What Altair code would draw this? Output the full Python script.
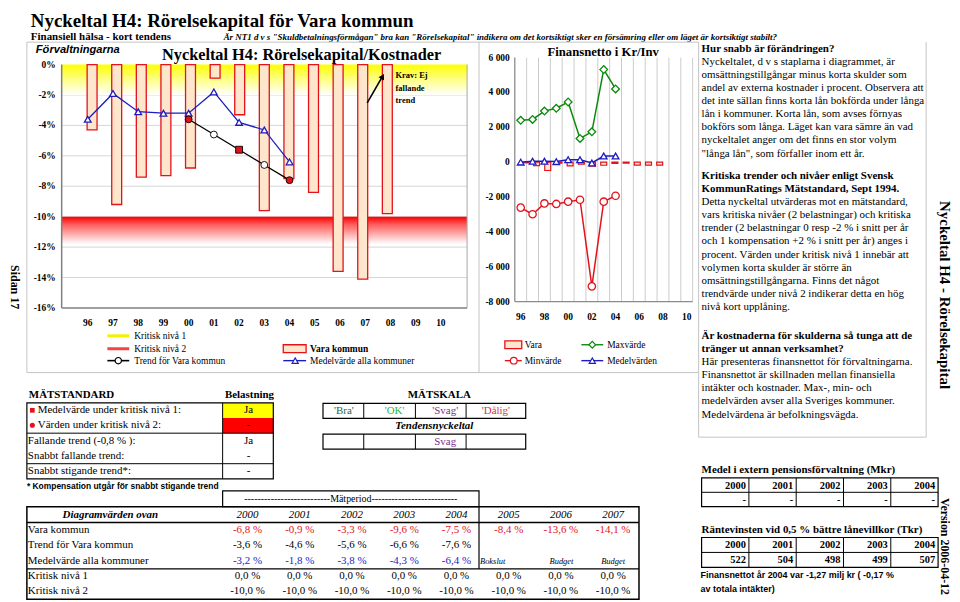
import altair as alt
import pandas as pd

# ------------------------------------------------------------------ data
ar = ["96", "97", "98", "99", "00", "01", "02", "03", "04", "05", "06", "07", "08", "09", "10"]
vara_kommun = [-4.3, -9.2, -7.4, -7.3, -6.8, -0.9, -3.3, -9.6, -7.5, -8.4, -13.6, -14.1, -9.8, None, None]
medel_alla = [-3.6, -1.9, -3.1, -3.2, -3.2, -1.8, -3.8, -4.3, -6.4, None, None, None, None, None, None]
trend_ar = ["00", "01", "02", "03", "04"]
trend_vara = [-3.6, -4.6, -5.6, -6.6, -7.6]
trend_form = ["cirkel", "cirkel", "kvadrat", "cirkel", "cirkel"]
trend_fyllning = ["röd", "vit", "röd", "vit", "röd"]
kritisk_niva_1 = 0.0
kritisk_niva_2 = -10.0
procent_ticks = [0, -2, -4, -6, -8, -10, -12, -14, -16]

fin_vara = [-40, -200, -480, -60, -220, -120, -230, -180, -70, -60, -170, -170, -170, None, None]
fin_max = [2400, 2450, 2930, 3090, 3450, 1360, 1740, 5310, 4200, None, None, None, None, None, None]
fin_min = [-2610, -2990, -2370, -2400, -2270, -2160, -7130, -2270, -1930, None, None, None, None, None, None]
fin_medel = [0, 50, 50, 30, 140, 140, -50, 350, 350, None, None, None, None, None, None]
fin_ticks = [6000, 4000, 2000, 0, -2000, -4000, -6000, -8000]

tab_ar = ["2000", "2001", "2002", "2003", "2004", "2005", "2006", "2007"]
tab_typ = ["Bokslut", "Budget", "Budget"]
tab_rader = ["Vara kommun", "Trend för Vara kommun", "Medelvärde alla kommuner", "Kritisk nivå 1", "Kritisk nivå 2"]

matstandard_rader = ["Medelvärde under kritisk nivå 1:", "Värden under kritisk nivå 2:",
                     "Fallande trend (-0,8 % ):", "Snabbt fallande trend:", "Snabbt stigande trend*:"]
belastning = ["Ja", "-", "Ja", "-", "-"]
matskala = ["'Bra'", "'OK'", "'Svag'", "'Dålig'"]
tendens = ["", "", "Svag", ""]

pension_ar = ["2000", "2001", "2002", "2003", "2004"]
pension_medel = ["-", "-", "-", "-", "-"]
ranta_vinst = [522, 504, 498, 499, 507]

text_block_1 = ["Nyckeltalet, d v s staplarna i diagrammet, är",
                "omsättningstillgångar minus korta skulder som",
                "andel av externa kostnader i procent. Observera att",
                "det inte sällan finns korta lån bokförda under långa",
                "lån i kommuner. Korta lån, som avses förnyas",
                "bokförs som långa. Läget kan vara sämre än vad",
                "nyckeltalet anger om det finns en stor volym",
                "\"långa lån\", som förfaller inom ett år."]
text_block_2 = ["Detta nyckeltal utvärderas mot en mätstandard,",
                "vars kritiska nivåer (2 belastningar) och kritiska",
                "trender (2 belastningar 0 resp -2 % i snitt per år",
                "och 1 kompensation +2 % i snitt per år) anges i",
                "procent. Värden under kritisk nivå 1 innebär att",
                "volymen korta skulder är större än",
                "omsättningstillgångarna.  Finns det något",
                "trendvärde under nivå 2 indikerar detta en hög",
                "nivå kort upplåning."]
text_block_3 = ["Här presenteras finansnettot för förvaltningarna.",
                "Finansnettot är skillnaden mellan finansiella",
                "intäkter och kostnader. Max-, min- och",
                "medelvärden avser alla Sveriges kommuner.",
                "Medelvärdena är befolkningsvägda."]
rubrik_1 = ["Hur snabb är förändringen?"]
rubrik_2 = ["Kritiska trender och nivåer enligt Svensk", "KommunRatings Mätstandard, Sept 1994."]
rubrik_3 = ["Är kostnaderna för skulderna så tunga att de", "tränger ut annan verksamhet?"]

# ------------------------------------------------------------------ style
SERIF = "Liberation Serif"
SANS = "Liberation Sans"
OFF = 8
PEACH = "#fde6cc"
RED = "#e3121b"
BLUE = "#1c1cc0"
GREEN = "#0a8a0a"
FRAME = "#c4c4c4"


def P(v):
    return v - OFF


one = pd.DataFrame({"d": [0]})
layers = []


def text(s, x, y, size=11, bold=False, italic=False, align="left", color="black", font=SERIF, angle=None,
         baseline="middle"):
    kw = dict(text=s, fontSize=size, align=align, baseline=baseline, color=color, font=font)
    if bold:
        kw["fontWeight"] = "bold"
    if italic:
        kw["fontStyle"] = "italic"
    if angle is not None:
        kw["angle"] = angle
    layers.append(alt.Chart(one).mark_text(**kw).encode(x=alt.value(P(x)), y=alt.value(P(y))))


def rule(x1, y1, x2, y2, color="black", width=1.0):
    layers.append(alt.Chart(one).mark_rule(color=color, strokeWidth=width).encode(
        x=alt.value(P(x1)), y=alt.value(P(y1)), x2=alt.value(P(x2)), y2=alt.value(P(y2))))


def rect(x1, y1, x2, y2, fill=None, stroke=None, width=1.0):
    kw = {}
    if fill:
        kw["fill"] = fill
    else:
        kw["fill"] = "white"
        kw["fillOpacity"] = 0
    if stroke:
        kw["stroke"] = stroke
        kw["strokeWidth"] = width
    layers.append(alt.Chart(one).mark_rect(**kw).encode(
        x=alt.value(P(x1)), y=alt.value(P(y1)), x2=alt.value(P(x2)), y2=alt.value(P(y2))))


def sc(domain, rng):
    return alt.Scale(domain=domain, range=rng, nice=False, zero=False)


# ---------------------------------------------------------------- scales
L_X = sc([-1.035, 15.04], [P(62), P(470)])
L_Y = sc([-16, 0], [P(308), P(63)])
M_X = sc([-0.5, 14.5], [P(518), P(697)])
M_Y = sc([-8000, 6000], [P(301.5), P(56)])


def lx(f):
    return alt.X(f"{f}:Q", scale=L_X, axis=None)


def ly(f):
    return alt.Y(f"{f}:Q", scale=L_Y, axis=None)


def mx(f):
    return alt.X(f"{f}:Q", scale=M_X, axis=None)


def my(f):
    return alt.Y(f"{f}:Q", scale=M_Y, axis=None)


# ---------------------------------------------------------------- titles
text("Nyckeltal H4: Rörelsekapital för Vara kommun", 31, 25, size=19, bold=True, baseline="alphabetic")
text("Finansiell hälsa - kort tendens", 31, 35, size=11, bold=True)
text("Är NT1 d v s \"Skuldbetalningsförmågan\" bra kan \"Rörelsekapital\" indikera om det kortsiktigt sker "
     "en försämring eller om läget är kortsiktigt stabilt?", 225, 35, size=9, bold=True, italic=True)
text("Sidan 17", 15, 287, size=12, bold=True, angle=90, align="center")
text("Nyckeltal H4 - Rörelsekapital", 951, 295, size=15, bold=True, angle=90, align="center")
text("Version  2006-04-12", 951, 548, size=12, bold=True, angle=90, align="center")

# panel frames
rule(27, 40.5, 703, 40.5, FRAME)
rule(27, 40.5, 27, 373, FRAME)
rule(27, 373, 703, 373, FRAME)
rule(482, 40.5, 482, 373, FRAME)
rule(703, 40.5, 703, 438, FRAME)
rule(932, 40.5, 932, 438, FRAME)
rule(703, 438, 932, 438, FRAME)

# ---------------------------------------------------------------- left chart
left = pd.DataFrame({"ar": ar, "i": list(range(len(ar))), "vara": vara_kommun, "medel": medel_alla})
trend = pd.DataFrame({"i": [ar.index(a) for a in trend_ar], "v": trend_vara,
                      "form": trend_form, "fyll": trend_fyllning})
ticks_l = pd.DataFrame({"v": procent_ticks, "t": [f"{v}%" for v in procent_ticks]})

layers.append(alt.Chart(ticks_l[(ticks_l.v < 0) & (ticks_l.v > -16)]).mark_rule(
    color="#d6d6d6", strokeWidth=1).encode(y=ly("v"), x=alt.value(P(62)), x2=alt.value(P(470))))

bands = pd.DataFrame({"topp": [kritisk_niva_1, kritisk_niva_2],
                      "botten": [kritisk_niva_1 - 2.0, kritisk_niva_2 - 1.8],
                      "niva": ["1", "2"]})
grad_y = alt.Gradient(gradient="linear", x1=0, x2=0, y1=0, y2=1,
                      stops=[alt.GradientStop(color="#ffff00", offset=0),
                             alt.GradientStop(color="#ffff70", offset=0.4),
                             alt.GradientStop(color="#ffffff", offset=1)])
grad_r = alt.Gradient(gradient="linear", x1=0, x2=0, y1=0, y2=1,
                      stops=[alt.GradientStop(color="#f80000", offset=0),
                             alt.GradientStop(color="#ff6060", offset=0.3),
                             alt.GradientStop(color="#ffffff", offset=1)])
layers.append(alt.Chart(bands[bands.niva == "1"]).mark_rect(color=grad_y).encode(
    y=ly("topp"), y2=alt.Y2("botten:Q"), x=alt.value(P(62)), x2=alt.value(P(470))))
layers.append(alt.Chart(bands[bands.niva == "2"]).mark_rect(color=grad_r).encode(
    y=ly("topp"), y2=alt.Y2("botten:Q"), x=alt.value(P(62)), x2=alt.value(P(470))))

rule(62, 63, 62, 308, "#7f7f7f", 1.5)
rule(62, 308, 470, 308, "#7f7f7f", 1.5)
rule(470, 63, 470, 308, "#a6a6a6", 1)

layers.append(alt.Chart(left.dropna(subset=["vara"])).mark_bar(
    orient="vertical", size=10, fill=PEACH, stroke=RED, strokeWidth=1.3).encode(
    x=lx("i"), y=ly("vara")))
lm = left.dropna(subset=["medel"])
layers.append(alt.Chart(lm).mark_line(color=BLUE, strokeWidth=1.3).encode(x=lx("i"), y=ly("medel")))
layers.append(alt.Chart(lm).mark_point(shape="triangle-up", size=45, filled=True, fill="white",
                                       stroke=BLUE, strokeWidth=1.3, opacity=1).encode(
    x=lx("i"), y=ly("medel")))
layers.append(alt.Chart(trend).mark_line(color="black", strokeWidth=1.3).encode(x=lx("i"), y=ly("v")))
layers.append(alt.Chart(trend).mark_point(size=48, filled=True, stroke="black", strokeWidth=0.9, opacity=1).encode(
    x=lx("i"), y=ly("v"),
    shape=alt.Shape("form:N", scale=alt.Scale(domain=["cirkel", "kvadrat"], range=["circle", "square"]), legend=None),
    fill=alt.Fill("fyll:N", scale=alt.Scale(domain=["röd", "vit"], range=[RED, "#ffffff"]), legend=None)))

layers.append(alt.Chart(ticks_l).mark_text(align="right", baseline="middle", fontSize=9.5,
                                           fontWeight="bold", font=SERIF).encode(
    y=ly("v"), x=alt.value(P(56)), text="t:N"))
layers.append(alt.Chart(left).mark_text(align="center", baseline="middle", fontSize=9.5,
                                        fontWeight="bold", font=SERIF).encode(
    x=lx("i"), y=alt.value(P(323)), text="ar:N"))

text("Förvaltningarna", 36, 48, size=11.2, bold=True, italic=True, font=SANS)
text("Nyckeltal H4: Rörelsekapital/Kostnader", 163, 53, size=16.4, bold=True)
text("Krav: Ej", 398, 74, size=8.5, bold=True)
text("fallande", 398, 86.5, size=8.5, bold=True)
text("trend", 398, 99, size=8.5, bold=True)
rule(369.5, 101.5, 384, 76.5, "black", 1.6)
layers.append(alt.Chart(one).mark_point(shape="triangle-up", size=40, filled=True, color="black", angle=30,
                                        opacity=1).encode(x=alt.value(P(385)), y=alt.value(P(75))))

# left legend
rule(108, 336, 130, 336, "#f2f200", 3)
text("Kritisk nivå 1", 135, 336, size=9.5)
rule(108, 349, 130, 349, "#ff4040", 3)
text("Kritisk nivå 2", 135, 349, size=9.5)
rule(108, 361, 130, 361, "black", 1.6)
layers.append(alt.Chart(one).mark_point(shape="circle", size=40, filled=True, fill="white", stroke="black",
                                        strokeWidth=1.2, opacity=1).encode(x=alt.value(P(119)), y=alt.value(P(361))))
text("Trend för Vara kommun", 135, 361, size=9.5)
rect(285, 345, 308, 353, fill=PEACH, stroke=RED, width=1.3)
text("Vara kommun", 312, 349, size=9.5, bold=True)
rule(285, 361, 308, 361, BLUE, 1.4)
layers.append(alt.Chart(one).mark_point(shape="triangle-up", size=38, filled=True, fill="white", stroke=BLUE,
                                        strokeWidth=1.2, opacity=1).encode(x=alt.value(P(297)), y=alt.value(P(361))))
text("Medelvärde alla kommuner", 312, 361, size=9.5)

# ---------------------------------------------------------------- middle chart
mid = pd.DataFrame({"ar": ar, "i": list(range(len(ar))), "vara": fin_vara, "max": fin_max,
                    "min": fin_min, "medel": fin_medel})
grid_m = pd.DataFrame({"g": [k + 0.5 for k in range(len(ar))]})
layers.append(alt.Chart(grid_m).mark_rule(color="#cccccc", strokeWidth=1).encode(
    x=mx("g"), y=alt.value(P(56)), y2=alt.value(P(301.5))))
rule(518, 56, 518, 301.5, "#8c8c8c", 1.3)
rule(518, 301.5, 697, 301.5, "#8c8c8c", 1.3)

layers.append(alt.Chart(mid.dropna(subset=["vara"])).mark_bar(
    orient="vertical", size=6, fill=PEACH, stroke=RED, strokeWidth=1.2).encode(x=mx("i"), y=my("vara")))
for col, colr, shape, size in [("max", GREEN, "diamond", 60), ("min", RED, "circle", 55),
                               ("medel", BLUE, "triangle-up", 45)]:
    d = mid.dropna(subset=[col])
    layers.append(alt.Chart(d).mark_line(color=colr, strokeWidth=1.5).encode(x=mx("i"), y=my(col)))
    layers.append(alt.Chart(d).mark_point(shape=shape, size=size, filled=True, fill="white", stroke=colr,
                                          strokeWidth=1.3, opacity=1).encode(x=mx("i"), y=my(col)))

ticks_m = pd.DataFrame({"v": fin_ticks, "t": [f"{v:,}".replace(",", " ") for v in fin_ticks]})
layers.append(alt.Chart(ticks_m).mark_text(align="right", baseline="middle", fontSize=9.5,
                                           fontWeight="bold", font=SERIF).encode(
    y=my("v"), x=alt.value(P(513)), text="t:N"))
layers.append(alt.Chart(mid.iloc[::2]).mark_text(align="center", baseline="middle", fontSize=9.5,
                                                 fontWeight="bold", font=SERIF).encode(
    x=mx("i"), y=alt.value(P(317)), text="ar:N"))
text("Finansnetto i Kr/Inv", 607, 50, size=12.8, bold=True, align="center")

# middle legend
rect(508, 341, 525, 349, fill=PEACH, stroke=RED, width=1.3)
text("Vara", 528, 345, size=9.5)
rule(585, 345, 607, 345, GREEN, 1.4)
layers.append(alt.Chart(one).mark_point(shape="diamond", size=45, filled=True, fill="white", stroke=GREEN,
                                        strokeWidth=1.2, opacity=1).encode(x=alt.value(P(596)), y=alt.value(P(345))))
text("Maxvärde", 611, 345, size=9.5)
rule(508, 361, 525, 361, RED, 1.4)
layers.append(alt.Chart(one).mark_point(shape="circle", size=45, filled=True, fill="white", stroke=RED,
                                        strokeWidth=1.2, opacity=1).encode(x=alt.value(P(517)), y=alt.value(P(361))))
text("Minvärde", 528, 361, size=9.5)
rule(585, 361, 607, 361, BLUE, 1.4)
layers.append(alt.Chart(one).mark_point(shape="triangle-up", size=38, filled=True, fill="white", stroke=BLUE,
                                        strokeWidth=1.2, opacity=1).encode(x=alt.value(P(596)), y=alt.value(P(361))))
text("Medelvärden", 611, 361, size=9.5)

# ---------------------------------------------------------------- right text panel
rows = []
for block_start, heads, body in [(0.0, rubrik_1, text_block_1), (9.7, rubrik_2, text_block_2),
                                 (21.9, rubrik_3, text_block_3)]:
    k = block_start
    for h in heads:
        rows.append({"s": k, "t": h, "b": "j"})
        k += 1
    for line in body:
        rows.append({"s": k, "t": line, "b": "n"})
        k += 1
rp = pd.DataFrame(rows)
RP_Y = sc([0, 27.9], [P(47), P(47 + 27.9 * 13.2)])
for b, w in [("j", "bold"), ("n", "normal")]:
    layers.append(alt.Chart(rp[rp.b == b]).mark_text(align="left", baseline="middle", fontSize=11,
                                                      fontWeight=w, font=SERIF).encode(
        y=alt.Y("s:Q", scale=RP_Y, axis=None), x=alt.value(P(706)), text="t:N"))

# ---------------------------------------------------------------- MÄTSTANDARD
text("MÄTSTANDARD", 29, 396, size=11, bold=True)
text("Belastning", 251, 396, size=11, bold=True, align="center")
rect(224, 403.5, 275, 418.8, fill="#ffff00")
rect(224, 418.8, 275, 434, fill="#ff0000")
rect(27, 403.5, 275, 480, stroke="black", width=1.2)
rule(224, 403.5, 224, 480, "black", 1)
rule(27, 434, 275, 434, "black", 1)
rule(27, 464.7, 275, 464.7, "black", 1)
ms = pd.DataFrame({"r": list(range(5)), "t": matstandard_rader, "v": belastning})
MS_Y = sc([0, 4], [P(411), P(472)])
layers.append(alt.Chart(ms[ms.r < 2]).mark_text(align="left", baseline="middle", fontSize=11, font=SERIF).encode(
    y=alt.Y("r:Q", scale=MS_Y, axis=None), x=alt.value(P(38)), text="t:N"))
layers.append(alt.Chart(ms[ms.r >= 2]).mark_text(align="left", baseline="middle", fontSize=11, font=SERIF).encode(
    y=alt.Y("r:Q", scale=MS_Y, axis=None), x=alt.value(P(28)), text="t:N"))
layers.append(alt.Chart(ms).mark_text(align="center", baseline="middle", fontSize=11, font=SERIF).encode(
    y=alt.Y("r:Q", scale=MS_Y, axis=None), x=alt.value(P(250)), text="v:N"))
layers.append(alt.Chart(one).mark_point(shape="square", size=22, filled=True, color=RED, opacity=1).encode(
    x=alt.value(P(32.5)), y=alt.value(P(411))))
layers.append(alt.Chart(one).mark_point(shape="circle", size=26, filled=True, color=RED, opacity=1).encode(
    x=alt.value(P(32.5)), y=alt.value(P(426))))
text("* Kompensation utgår för snabbt stigande trend", 27, 487, size=8.5, bold=True, font=SANS)

# ---------------------------------------------------------------- MÄTSKALA
text("MÄTSKALA", 442, 396, size=11, bold=True, align="center")
text("Tendensnyckeltal", 437, 427, size=11, bold=True, italic=True, align="center")
sk_edges = [325, 366, 418, 469, 529]
for y1, y2 in [(404, 419), (435, 450)]:
    rect(sk_edges[0], y1, sk_edges[-1], y2, stroke="black", width=1.2)
    for e in sk_edges[1:-1]:
        rule(e, y1, e, y2, "black", 1)
sk = pd.DataFrame({"k": list(range(4)), "t": matskala, "tend": tendens, "c": matskala})
SK_X = sc([0, 3], [P(346), P(499)])
farg = alt.Color("c:N", scale=alt.Scale(domain=matskala, range=["#1d6b3c", "#2fb52f", "#7a2f8a", "#d9344a"]),
                 legend=None)
layers.append(alt.Chart(sk).mark_text(align="center", baseline="middle", fontSize=11, font=SERIF).encode(
    x=alt.X("k:Q", scale=SK_X, axis=None), y=alt.value(P(411.5)), text="t:N", color=farg))
layers.append(alt.Chart(sk[sk.tend != ""]).mark_text(align="center", baseline="middle", fontSize=11,
                                                      font=SERIF).encode(
    x=alt.X("k:Q", scale=SK_X, axis=None), y=alt.value(P(442.5)), text="tend:N", color=farg))

# ---------------------------------------------------------------- bottom table
rect(224, 492, 482, 508, stroke="black", width=1.2)
text("--------------------------Mätperiod--------------------------", 353, 500, size=10, align="center")
rect(27, 508, 643, 601, stroke="black", width=1.5)
rule(27, 524, 643, 524, "black", 1.5)
rule(27, 570.5, 643, 570.5, "black", 1.2)
rule(482, 508, 482, 570.5, "black", 1.2)
text("Diagramvärden ovan", 111, 516, size=11, bold=True, italic=True, align="center")

vals = []
series = [(vara_kommun[4:12], "röd"), (trend_vara, "svart"), (medel_alla[4:9], "blå"),
          ([kritisk_niva_1] * 8, "svart"), ([kritisk_niva_2] * 8, "svart")]
for r, (vs, c) in enumerate(series):
    for k, v in enumerate(vs):
        vals.append({"r": r, "k": k, "t": f"{v:.1f}".replace(".", ",") + " %", "c": c})
tv = pd.DataFrame(vals)
TB_X = sc([0, 7], [P(249), P(617)])
TB_Y = sc([-1, 4], [P(516), P(593)])
layers.append(alt.Chart(tv).mark_text(align="center", baseline="middle", fontSize=11, font=SERIF).encode(
    x=alt.X("k:Q", scale=TB_X, axis=None), y=alt.Y("r:Q", scale=TB_Y, axis=None), text="t:N",
    color=alt.Color("c:N", scale=alt.Scale(domain=["röd", "svart", "blå"], range=[RED, "black", "#1c1cc0"]),
                    legend=None)))
th = pd.DataFrame({"k": list(range(8)), "t": tab_ar, "r": [-1] * 8})
layers.append(alt.Chart(th).mark_text(align="center", baseline="middle", fontSize=11, fontStyle="italic",
                                      font=SERIF).encode(
    x=alt.X("k:Q", scale=TB_X, axis=None), y=alt.Y("r:Q", scale=TB_Y, axis=None), text="t:N"))
tr = pd.DataFrame({"r": list(range(5)), "t": tab_rader})
layers.append(alt.Chart(tr).mark_text(align="left", baseline="middle", fontSize=11, font=SERIF).encode(
    y=alt.Y("r:Q", scale=TB_Y, axis=None), x=alt.value(P(28)), text="t:N"))
text(tab_typ[0], 483, 563, size=8.5, italic=True)
text(tab_typ[1], 565, 563, size=8.5, italic=True, align="center")
text(tab_typ[2], 617, 563, size=8.5, italic=True, align="center")

# ---------------------------------------------------------------- right tables
edges = [706, 753.6, 801.2, 848.8, 896.4, 944]
RT_X = sc([0, 4], [P(750.6), P(941)])
text("Medel i extern pensionsförvaltning (Mkr)", 706, 471, size=11, bold=True)
text("Räntevinsten vid 0,5 % bättre lånevillkor (Tkr)", 706, 531, size=11, bold=True)
for y1, y2 in [(479, 508), (539, 569)]:
    rect(edges[0], y1, edges[-1], y2, stroke="black", width=1.2)
    rule(edges[0], (y1 + y2) / 2, edges[-1], (y1 + y2) / 2, "black", 1)
    for e in edges[1:-1]:
        rule(e, y1, e, y2, "black", 1)
pt = pd.DataFrame({"k": list(range(5)), "ar": pension_ar, "p": pension_medel,
                   "r": [str(v) for v in ranta_vinst]})
for col, y in [("ar", 487), ("p", 501), ("ar", 547), ("r", 562)]:
    layers.append(alt.Chart(pt).mark_text(align="right", baseline="middle", fontSize=10.5, fontWeight="bold",
                                          font=SERIF).encode(
        x=alt.X("k:Q", scale=RT_X, axis=None), y=alt.value(P(y)), text=f"{col}:N"))
text("Finansnettot år 2004 var -1,27 milj kr ( -0,17 %", 705, 577, size=9, bold=True, font=SANS)
text("av totala intäkter)", 705, 591, size=9, bold=True, font=SANS)

# ---------------------------------------------------------------- assemble
chart = alt.layer(*layers).resolve_scale(
    x="independent", y="independent", color="independent", fill="independent", shape="independent"
).properties(
    width=950, height=594, padding=0, autosize=alt.AutoSizeParams(type="none")
).configure_view(strokeWidth=0)

chart.save("out.html", embed_options={"renderer": "svg", "actions": False})
